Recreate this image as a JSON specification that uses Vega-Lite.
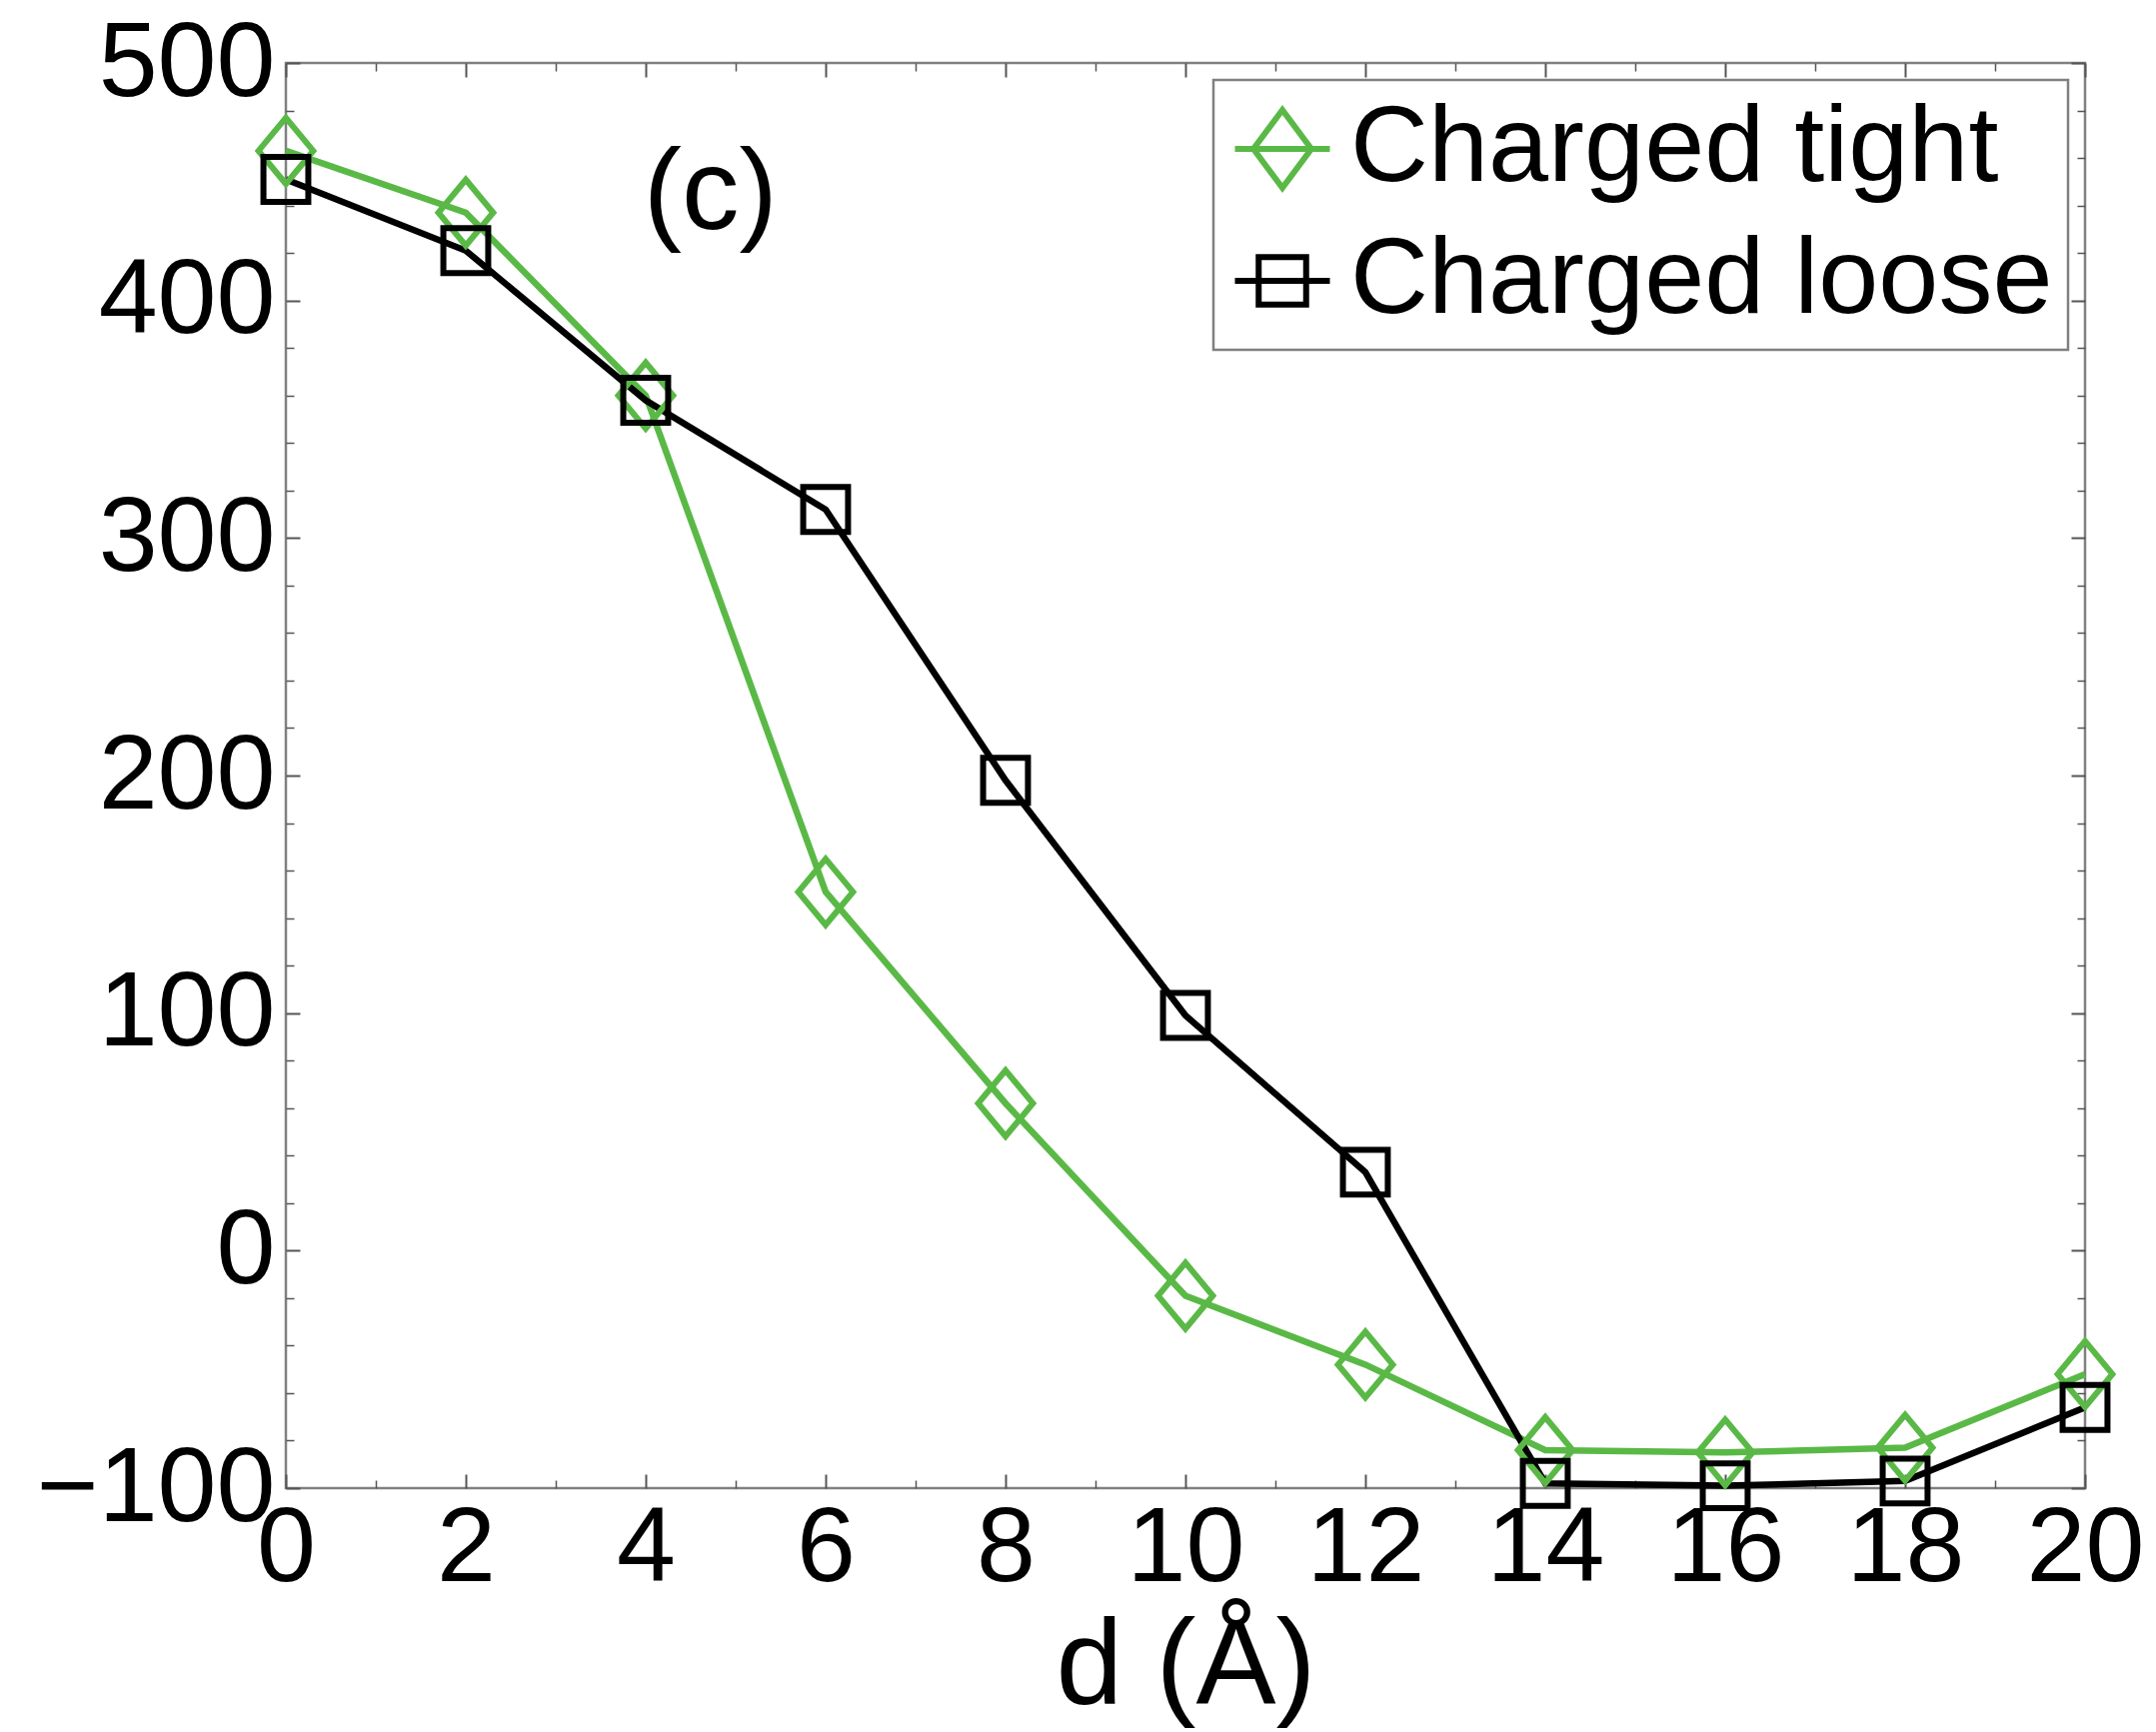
{
  "$schema": "https://vega.github.io/schema/vega-lite/v6.json",
  "width": 1800,
  "height": 1426,
  "autosize": {"type": "none"},
  "padding": {"left": 286, "top": 63, "right": 71, "bottom": 244},
  "background": "white",
  "datasets": {
    "curves": [
      {"d": 0, "E": 463, "series": "Charged tight", "marker": "diamond"},
      {"d": 2, "E": 437, "series": "Charged tight", "marker": "diamond"},
      {"d": 4, "E": 360, "series": "Charged tight", "marker": "diamond"},
      {"d": 6, "E": 151, "series": "Charged tight", "marker": "diamond"},
      {"d": 8, "E": 62, "series": "Charged tight", "marker": "diamond"},
      {"d": 10, "E": -19, "series": "Charged tight", "marker": "diamond"},
      {"d": 12, "E": -48, "series": "Charged tight", "marker": "diamond"},
      {"d": 14, "E": -84, "series": "Charged tight", "marker": "diamond"},
      {"d": 16, "E": -85, "series": "Charged tight", "marker": "diamond"},
      {"d": 18, "E": -83, "series": "Charged tight", "marker": "diamond"},
      {"d": 20, "E": -52, "series": "Charged tight", "marker": "diamond"},
      {"d": 0, "E": 451, "series": "Charged loose", "marker": "square"},
      {"d": 2, "E": 421, "series": "Charged loose", "marker": "square"},
      {"d": 4, "E": 358, "series": "Charged loose", "marker": "square"},
      {"d": 6, "E": 312, "series": "Charged loose", "marker": "square"},
      {"d": 8, "E": 198, "series": "Charged loose", "marker": "square"},
      {"d": 10, "E": 99, "series": "Charged loose", "marker": "square"},
      {"d": 12, "E": 33, "series": "Charged loose", "marker": "square"},
      {"d": 14, "E": -98, "series": "Charged loose", "marker": "square"},
      {"d": 16, "E": -99, "series": "Charged loose", "marker": "square"},
      {"d": 18, "E": -97, "series": "Charged loose", "marker": "square"},
      {"d": 20, "E": -66, "series": "Charged loose", "marker": "square"}
    ],
    "label": [{"d": 4.72, "E": 445, "text": "(c)"}]
  },
  "data": {"name": "curves"},
  "layer": [
    {
      "mark": {"type": "line", "strokeWidth": 6.5},
      "encoding": {
        "x": {"field": "d", "type": "quantitative",
          "scale": {"domain": [0, 20], "nice": false, "zero": false},
          "axis": {"orient": "bottom", "values": [0, 2, 4, 6, 8, 10, 12, 14, 16, 18, 20], "title": "d (Å)", "tickSize": -14, "labelPadding": 22, "titlePadding": 6}},
        "y": {"field": "E", "type": "quantitative",
          "scale": {"domain": [-100, 500], "nice": false, "zero": false},
          "axis": {"orient": "left", "values": [-100, 0, 100, 200, 300, 400, 500], "title": null, "tickSize": -14, "labelPadding": 25}},
        "color": {"field": "series", "type": "nominal",
          "scale": {"domain": ["Charged tight", "Charged loose"], "range": ["#5ab946", "#000000"]},
          "legend": {"title": null,
            "encode": {"symbols": {"update": {"shape": {"signal": "datum.value === 'Charged tight' ? 'M -1,0 L 1,0 M 0,-0.82 L 0.61,0 L 0,0.82 L -0.61,0 Z' : 'M -1,0 L 1,0 M -0.5,-0.5 L 0.5,-0.5 L 0.5,0.5 L -0.5,0.5 Z'"}}}}}}
      }
    },
    {
      "mark": {"type": "point", "filled": false, "strokeWidth": 6, "size": 4356, "opacity": 1},
      "encoding": {
        "x": {"field": "d", "type": "quantitative",
          "axis": {"orient": "bottom", "values": [1, 3, 5, 7, 9, 11, 13, 15, 17, 19], "labels": false, "title": null, "tickSize": -8, "tickWidth": 1.5}},
        "y": {"field": "E", "type": "quantitative",
          "axis": {"orient": "left", "values": [-80, -60, -40, -20, 20, 40, 60, 80, 120, 140, 160, 180, 220, 240, 260, 280, 320, 340, 360, 380, 420, 440, 460, 480], "labels": false, "title": null, "tickSize": -8, "tickWidth": 1.5}},
        "color": {"field": "series", "type": "nominal",
          "legend": {"title": null,
            "encode": {"symbols": {"update": {"shape": {"signal": "datum.value === 'Charged tight' ? 'M -1,0 L 1,0 M 0,-0.82 L 0.61,0 L 0,0.82 L -0.61,0 Z' : 'M -1,0 L 1,0 M -0.5,-0.5 L 0.5,-0.5 L 0.5,0.5 L -0.5,0.5 Z'"}}}}}},
        "shape": {"field": "marker", "type": "nominal",
          "scale": {"domain": ["diamond", "square"], "range": ["M 0,-1 L 0.83,0 L 0,1 L -0.83,0 Z", "M -0.68,-0.68 L 0.68,-0.68 L 0.68,0.68 L -0.68,0.68 Z"]},
          "legend": null}
      }
    },
    {
      "data": {"name": "label"},
      "mark": {"type": "text", "fontSize": 115, "font": "Liberation Sans", "color": "black", "align": "center", "baseline": "middle"},
      "encoding": {
        "x": {"field": "d", "type": "quantitative",
          "axis": {"orient": "top", "values": [0, 2, 4, 6, 8, 10, 12, 14, 16, 18, 20], "labels": false, "title": null, "tickSize": -14}},
        "y": {"field": "E", "type": "quantitative",
          "axis": {"orient": "right", "values": [-100, 0, 100, 200, 300, 400, 500], "labels": false, "title": null, "tickSize": -14}},
        "text": {"field": "text"}
      }
    },
    {
      "mark": {"type": "point", "opacity": 0},
      "encoding": {
        "x": {"field": "d", "type": "quantitative",
          "axis": {"orient": "top", "values": [1, 3, 5, 7, 9, 11, 13, 15, 17, 19], "labels": false, "title": null, "tickSize": -8, "tickWidth": 1.5}},
        "y": {"field": "E", "type": "quantitative",
          "axis": {"orient": "right", "values": [-80, -60, -40, -20, 20, 40, 60, 80, 120, 140, 160, 180, 220, 240, 260, 280, 320, 340, 360, 380, 420, 440, 460, 480], "labels": false, "title": null, "tickSize": -8, "tickWidth": 1.5}}
      }
    }
  ],
  "resolve": {"axis": {"x": "independent", "y": "independent"}},
  "config": {
    "view": {"stroke": "#808080", "strokeWidth": 2.5},
    "axis": {
      "domain": false, "grid": false,
      "labelFont": "Liberation Sans", "labelFontSize": 106, "labelColor": "#000000", "labelLimit": 600,
      "labelFlush": false, "labelOverlap": false, "labelBound": false,
      "tickColor": "#555555", "tickWidth": 2,
      "titleFont": "Liberation Sans", "titleFontSize": 120, "titleFontWeight": "normal", "titleColor": "#000000"
    },
    "legend": {
      "orient": "top-right", "offset": 17, "padding": 15,
      "strokeColor": "#808080", "strokeWidth": 2.5, "fillColor": "white",
      "labelFont": "Liberation Sans", "labelFontSize": 108, "labelColor": "#000000", "labelLimit": 1200,
      "symbolSize": 9025, "symbolStrokeWidth": 6, "labelOffset": 14, "rowPadding": 24
    }
  }
}
